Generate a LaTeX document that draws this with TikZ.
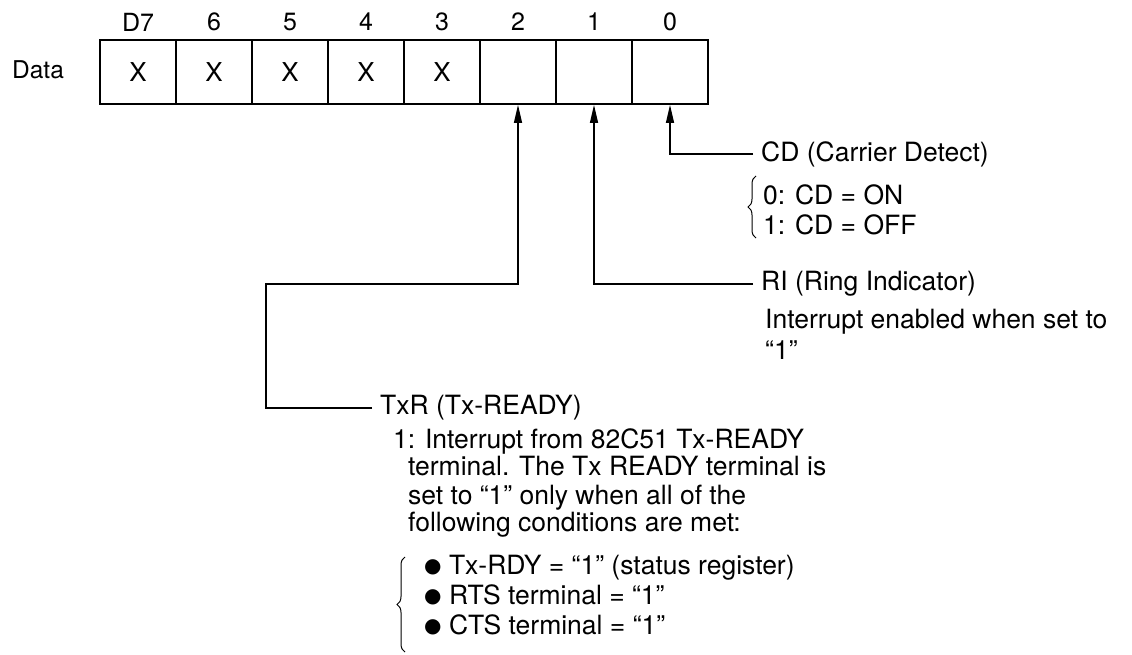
\documentclass[tikz,border=0pt]{standalone}
\usepackage{fontspec}
\setmainfont{TeX Gyre Heros}
\newfontfamily\symfont{DejaVu Sans}
\usetikzlibrary{arrows.meta,decorations.pathreplacing}

\newcommand{\dotmark}{\raisebox{2.5pt}{\symfont\fontsize{20}{29}\selectfont ●}}

\begin{document}
\begin{tikzpicture}[
  x=1pt,y=-1pt,
  font=\fontsize{26.5}{29}\selectfont,
  cell/.style={draw,line width=1.8pt,minimum width=76pt,minimum height=64pt,
               inner sep=0pt,font=\fontsize{26}{29}\selectfont},
  bitno/.style={font=\fontsize{25}{29}\selectfont},
  note/.style={anchor=west,inner sep=8pt},
  desc/.style={anchor=north west,align=left,inner sep=0pt},
  flow/.style={-{Triangle[length=18pt,width=8pt]},line width=1.3pt},
  curly/.style={decorate,decoration={brace,amplitude=8pt},line width=1pt}
]
  \useasboundingbox (0,0) rectangle (1132,655);

  % register
  \node[font=\fontsize{24.5}{29}\selectfont] (data) at (38,70) {Data};
  \foreach \b/\t/\x/\v in {7/D7/138/X,6/6/214/X,5/5/290/X,4/4/366/X,
                           3/3/442/X,2/2/518/{},1/1/594/{},0/0/670/{}}
  {
    \node[cell] (b\b) at (\x,72) {\v};
    \node[bitno] (n\b) at (\x,22) {\t};
  }

  % bit 0
  \node[note] (cd) at (753,154) {CD (Carrier Detect)};
  \draw[curly] (756,238) -- (756,176);
  \node[desc,font=\fontsize{26.5}{30}\selectfont] (cdv) at (763,185)
    {0: CD = ON\\1: CD = OFF};
  \draw[flow] (cd.west) -| (b0.south);

  % bit 1
  \node[note] (ri) at (753,284) {RI (Ring Indicator)};
  \node[desc,font=\fontsize{26.5}{31}\selectfont] (riv) at (765,309)
    {Interrupt enabled when set to\\“1”};
  \draw[flow] (ri.west) -| (b1.south);

  % bit 2
  \node[note] (txr) at (372,408) {TxR (Tx-READY)};
  \coordinate (tbend) at (266,284);
  \node[desc,font=\fontsize{26.5}{28}\selectfont] (txv) at (393,428)
    {1: Interrupt from 82C51 Tx-READY\\
     \hspace*{15pt}terminal. The Tx READY terminal is\\
     \hspace*{15pt}set to “1” only when all of the\\
     \hspace*{15pt}following conditions are met:};
  \draw[curly] (405,652) -- (405,557);
  \node[desc,font=\fontsize{26.5}{30}\selectfont] (txc) at (424,555)
    {\dotmark\ Tx-RDY = “1” (status register)\\
     \dotmark\ RTS terminal = “1”\\
     \dotmark\ CTS terminal = “1”};
  \draw[flow] (txr.west) -| (tbend) -| (b2.south);
\end{tikzpicture}
\end{document}
